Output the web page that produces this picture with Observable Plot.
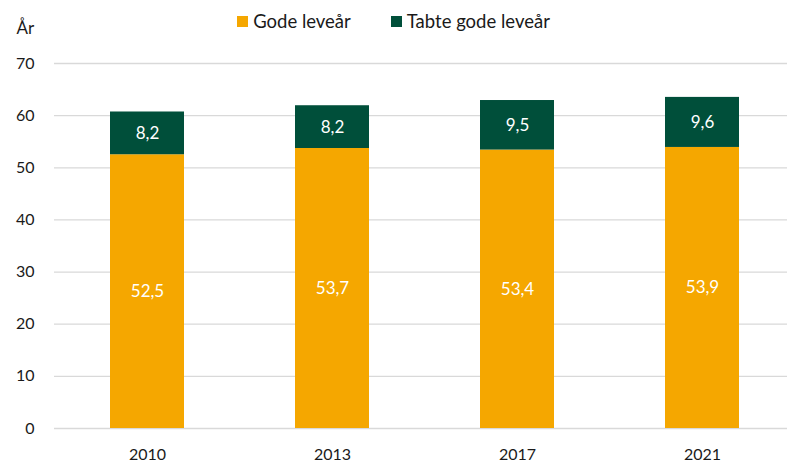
<!DOCTYPE html>
<html><head><meta charset="utf-8">
<script src="https://cdn.jsdelivr.net/npm/d3@7"></script>
<script src="https://cdn.jsdelivr.net/npm/@observablehq/plot@0.6"></script>
<style>
body{margin:0;background:#fff;font-family:Lato,"Open Sans",sans-serif;}
#wrap{position:relative;width:787px;height:463px;}
#legend{position:absolute;top:10px;left:0;width:787px;display:flex;justify-content:center;font-size:18.5px;color:#1a1a1a;padding-left:0px;box-sizing:border-box;}
#legend span.item{display:flex;align-items:center;margin:0 20px;}
#legend span.sw{display:inline-block;width:11px;height:11px;margin-right:5px;}
</style></head>
<body><div id="wrap"><div id="legend"></div></div>
<script>
const years = ["2010","2013","2017","2021"];
const godeLevear = [52.5, 53.7, 53.4, 53.9];
const tabteGodeLevear = [8.2, 8.2, 9.5, 9.6];
const seriesNames = ["Gode leveår", "Tabte gode leveår"];
const seriesColors = ["#F5A700", "#004F3A"];
const yTicks = [0,10,20,30,40,50,60,70];

const data = [];
years.forEach((y,i)=>{
  data.push({year:y, series:seriesNames[0], value:godeLevear[i]});
  data.push({year:y, series:seriesNames[1], value:tabteGodeLevear[i]});
});
const fmt = v => String(v).replace(".", ",");

const chart = Plot.plot({
  width:787, height:463,
  marginTop:63, marginBottom:35, marginLeft:54, marginRight:0,
  style:{fontFamily:"Lato, 'Open Sans', sans-serif", fontSize:"16px", color:"#1a1a1a"},
  x:{domain:years, range:[54,794], paddingInner:0.6, paddingOuter:0.3, label:null, tickSize:0, tickPadding:20},
  y:{domain:[0,70], ticks:yTicks, label:null, tickSize:0, tickPadding:20, tickFormat:d=>d},
  color:{domain:seriesNames, range:seriesColors},
  marks:[
    Plot.ruleY(yTicks, {stroke:"#d9d9d9", strokeWidth:1.3}),
    Plot.barY(data, {x:"year", y:"value", fill:"series", order:seriesNames}),
    Plot.text(data, Plot.stackY({x:"year", y:"value", z:"series", order:seriesNames, text:d=>fmt(d.value), fill:"white", fontSize:17})),
    Plot.text(["År"], {frameAnchor:"top-left", dx:-38, dy:-42, text:d=>d, fontSize:17, fill:"#1a1a1a"})
  ]
});
document.getElementById("wrap").appendChild(chart);
const lg = document.getElementById("legend");
seriesNames.forEach((n,i)=>{
  const it = document.createElement("span"); it.className="item";
  const sw = document.createElement("span"); sw.className="sw"; sw.style.background=seriesColors[i];
  it.appendChild(sw); it.appendChild(document.createTextNode(n)); lg.appendChild(it);
});
</script></body></html>
